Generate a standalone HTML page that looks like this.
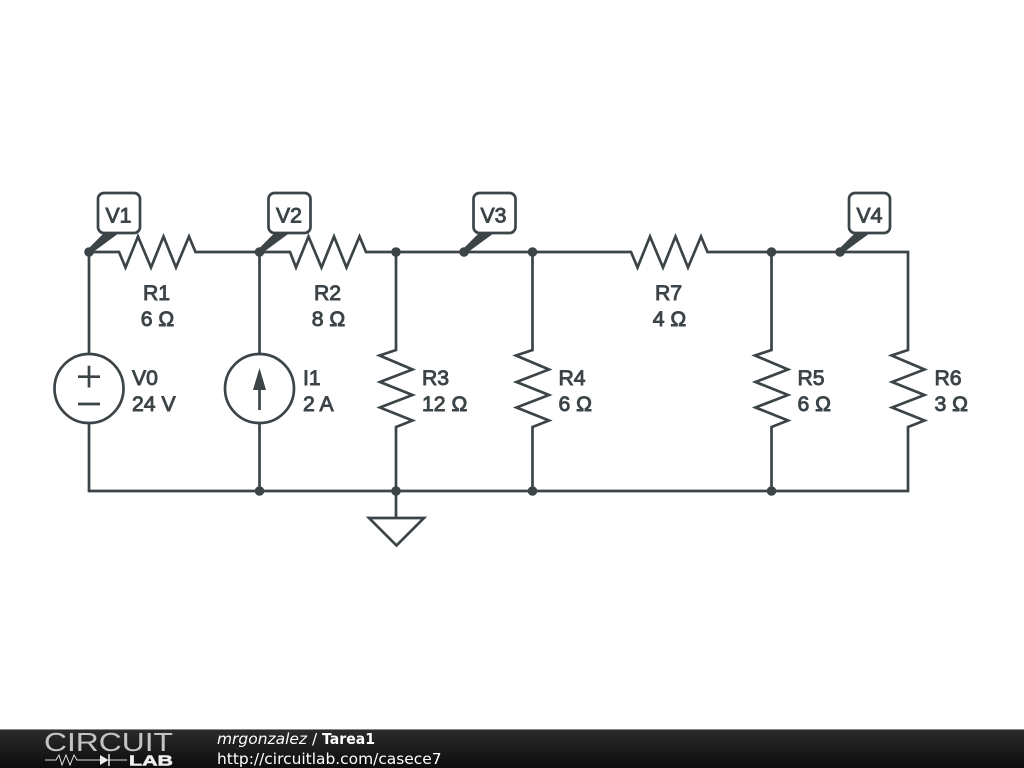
<!DOCTYPE html>
<html><head><meta charset="utf-8"><style>
html,body{margin:0;padding:0;background:#fff}
svg{display:block}
.l{font-family:"Liberation Sans",Arial,sans-serif;font-size:21.2px;fill:#3c4448;stroke:#3c4448;stroke-width:.9}
.c{text-anchor:middle}
.w{fill:none;stroke:#3c4448;stroke-width:2.7;stroke-linejoin:miter}
.f{font-family:"DejaVu Sans",sans-serif;fill:#fff}
</style></head><body>
<svg width="1024" height="768" viewBox="0 0 1024 768" xmlns="http://www.w3.org/2000/svg">
<rect width="1024" height="768" fill="#fff"/>
<defs>
<linearGradient id="g" x1="0" y1="0" x2="0" y2="1"><stop offset="0" stop-color="#2c2c2c"/><stop offset=".5" stop-color="#1c1c1c"/><stop offset="1" stop-color="#0c0c0c"/></linearGradient>
</defs>
<g class="w">
<path d="M89,252H119L125.500,267.500L138,236.500L151,267.500L163.500,236.500L176,267.500L189,236.500L195.500,252H290L296,267.500L308.500,236.500L321.500,267.500L334,236.500L346.500,267.500L359.500,236.500L366,252H631L637.500,267.500L650,236.500L663,267.500L675.500,236.500L688,267.500L701,236.500L707.500,252H908V350L891.500,355.500L924.500,369.500L892,382L924.500,395L892,407.500L924.500,420.500L908,427V491H89V423"/>
<path d="M89,252V354"/>
<path d="M259.500,252V354M259.500,423V491"/>
<path d="M396,252V350L379.500,355.500L412.500,369.500L380,382L412.500,395L380,407.500L412.500,420.500L396,427V518"/>
<path d="M532.500,252V350L516,355.500L549,369.500L516.500,382L549,395L516.500,407.500L549,420.500L532.500,427V491"/>
<path d="M771.500,252V350L755,355.500L788,369.500L755.500,382L788,395L755.500,407.500L788,420.500L771.500,427V491"/>
<path d="M369,518H424L396.500,545.500Z"/>
<circle cx="89" cy="388.500" r="34.500"/>
<circle cx="259.500" cy="388.500" r="34.500"/>
<path d="M78,376.700H100M89,365.700V387.500M78,404H100"/>
<path d="M259.500,410V385" />
<rect x="98" y="193" width="42" height="40" rx="6"/>
<rect x="268.500" y="193" width="42" height="40" rx="6"/>
<rect x="473.500" y="193" width="42" height="40" rx="6"/>
<rect x="849" y="193" width="41" height="40" rx="6"/>
</g>
<g fill="#3c4448">
<path d="M259.500,368L266,390H253Z"/>
<path d="M87,250L104,233H119L90.500,254Z"/>
<path d="M257.500,250L274.500,233H289.500L261,254Z"/>
<path d="M462,250L479,233H494L465.500,254Z"/>
<path d="M838,250L855,233H870L841.500,254Z"/>
<circle cx="89" cy="252" r="4.800"/><circle cx="259.500" cy="252" r="4.800"/><circle cx="396" cy="252" r="4.800"/><circle cx="464" cy="252" r="4.800"/><circle cx="532.500" cy="252" r="4.800"/><circle cx="771.500" cy="252" r="4.800"/><circle cx="840" cy="252" r="4.800"/>
<circle cx="259.500" cy="491" r="4.800"/><circle cx="396" cy="491" r="4.800"/><circle cx="532.500" cy="491" r="4.800"/><circle cx="771.500" cy="491" r="4.800"/>
</g>
<g class="l">
<text class="c" x="118.500" y="222.500">V1</text><text class="c" x="289" y="222.500">V2</text><text class="c" x="493.500" y="222.500">V3</text><text class="c" x="869.500" y="222.500">V4</text>
<text class="c" x="156.500" y="300">R1</text><text class="c" x="157.500" y="326">6 Ω</text>
<text class="c" x="327.500" y="300">R2</text><text class="c" x="328.500" y="326">8 Ω</text>
<text class="c" x="668.500" y="300">R7</text><text class="c" x="669.500" y="326">4 Ω</text>
<text x="132" y="385">V0</text><text x="132" y="411">24 V</text>
<text x="303" y="385">I1</text><text x="303" y="411">2 A</text>
<text x="422" y="385">R3</text><text x="422" y="411">12 Ω</text>
<text x="558.500" y="385">R4</text><text x="558.500" y="411">6 Ω</text>
<text x="797.500" y="385">R5</text><text x="797.500" y="411">6 Ω</text>
<text x="934.500" y="385">R6</text><text x="934.500" y="411">3 Ω</text>
</g>
<rect y="729" width="1024" height="39" fill="url(#g)"/>
<rect y="729" width="1024" height="1" fill="#8a8a8a"/>
<text x="44" y="751" font-family="'Liberation Sans',sans-serif" font-size="25.500" textLength="129" lengthAdjust="spacingAndGlyphs" fill="#c4c4c4">CIRCUIT</text>
<text x="129" y="765.500" font-family="'Liberation Sans',sans-serif" font-size="14.500" font-weight="bold" textLength="44" lengthAdjust="spacingAndGlyphs" fill="#eee" stroke="#eee" stroke-width=".5">LAB</text>
<path d="M45,760H56L59,755L62,765L66,755L70,765L74,755L77,760H100M108,760H127" fill="none" stroke="#ddd" stroke-width="1"/>
<path d="M100,755V765L108.500,760Z" fill="#eee"/><path d="M109,754V766" stroke="#eee" stroke-width="1.500"/>
<text class="f" x="217" y="744" font-style="italic" style="font-size:15.4px" textLength="90" lengthAdjust="spacingAndGlyphs">mrgonzalez</text>
<text class="f" x="312" y="744" style="font-size:15.4px">/</text>
<text class="f" x="322" y="744" font-weight="bold" style="font-size:15.4px" textLength="53" lengthAdjust="spacingAndGlyphs">Tarea1</text>
<text class="f" x="217" y="764" style="font-size:15.45px">http://circuitlab.com/casece7</text>
</svg>
</body></html>
